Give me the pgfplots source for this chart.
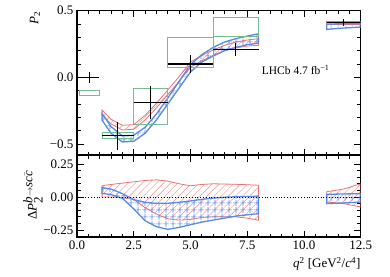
\documentclass[border=0pt]{standalone}
\usepackage{pgfplots}
\pgfplotsset{compat=1.18}
\usepackage{fontspec}
\setmainfont{Liberation Serif}
\usetikzlibrary{patterns.meta}
\definecolor{myred}{RGB}{238,112,112}
\definecolor{myblue}{RGB}{88,138,230}
\definecolor{mygreen}{RGB}{120,188,145}
\pgfplotsset{
  panel/.style={
    scale only axis, width=283.7pt, xmin=0, xmax=12.5,
    axis line style={line width=1.1pt},
    tick style={line width=0.8pt, black},
    tick align=inside, major tick length=6.5pt, minor tick length=3.5pt,
    xtick={0,2.5,5,7.5,10,12.5}, minor x tick num=4,
    minor y tick num=4,
    xtick pos=both, ytick pos=both,
    tick label style={font=\fontsize{13}{15}\selectfont},
    clip=true,
  },
  redband/.style={draw=myred, line width=0.8pt, pattern={Lines[angle=45,distance=5pt,line width=0.45pt]}, pattern color=myred!80},
  blueband/.style={draw=myblue, line width=1.3pt, pattern={Hatch[angle=0,distance=6.5pt,line width=0.6pt]}, pattern color=myblue},
  gbox/.style={draw=mygreen, line width=0.8pt},
}
\begin{document}
\begin{tikzpicture}
\useasboundingbox (0,0) rectangle (390pt,-276pt);
% ---------- top panel
\begin{axis}[panel, at={(77pt,-10.7pt)}, anchor=north west, height=144.3pt,
  ymin=-0.583, ymax=0.5, ytick={-0.5,0,0.5}, yticklabels={−0.5,0.0,0.5},
  xticklabels={}]
% red band (upper then lower reversed)
\addplot[redband] coordinates {
(1.1,-0.245)(1.5,-0.315)(2.0,-0.36)(2.5,-0.355)(3.0,-0.285)(3.5,-0.195)(4.0,-0.095)(4.5,0.005)(5.0,0.115)(5.5,0.165)(6.0,0.205)(6.5,0.24)(7.0,0.265)(7.5,0.28)(8.0,0.29)
(8.0,0.24)(7.5,0.235)(7.0,0.22)(6.5,0.20)(6.0,0.165)(5.5,0.125)(5.0,0.075)(4.5,-0.03)(4.0,-0.13)(3.5,-0.23)(3.0,-0.32)(2.5,-0.39)(2.0,-0.395)(1.5,-0.35)(1.1,-0.28)} -- cycle;
\addplot[redband] coordinates {(11.0,0.42)(11.75,0.42)(12.5,0.42)(12.5,0.40)(11.75,0.40)(11.0,0.40)} -- cycle;
% blue band
\addplot[blueband] coordinates {
(1.1,-0.27)(1.5,-0.37)(2.0,-0.44)(2.5,-0.435)(3.0,-0.375)(3.5,-0.275)(4.0,-0.155)(4.5,-0.03)(5.0,0.095)(5.5,0.17)(6.0,0.225)(6.5,0.265)(7.0,0.29)(7.5,0.31)(8.0,0.327)
(8.0,0.257)(7.5,0.245)(7.0,0.225)(6.5,0.20)(6.0,0.16)(5.5,0.115)(5.0,0.04)(4.5,-0.08)(4.0,-0.20)(3.5,-0.32)(3.0,-0.42)(2.5,-0.48)(2.0,-0.485)(1.5,-0.42)(1.1,-0.32)} -- cycle;
\addplot[blueband] coordinates {(11.0,0.40)(11.75,0.402)(12.5,0.405)(12.5,0.377)(11.75,0.37)(11.0,0.36)} -- cycle;
% green boxes
\addplot[gbox] coordinates {(0.1,-0.135)(0.98,-0.135)(0.98,-0.10)(0.1,-0.10)} -- cycle;
\addplot[gbox] coordinates {(1.1,-0.455)(2.5,-0.455)(2.5,-0.41)(1.1,-0.41)} -- cycle;
\addplot[gbox] coordinates {(2.5,-0.35)(4.0,-0.35)(4.0,-0.084)(2.5,-0.084)} -- cycle;
\addplot[gbox] coordinates {(4.0,0.077)(6.0,0.077)(6.0,0.30)(4.0,0.30)} -- cycle;
\addplot[gbox] coordinates {(6.0,0.307)(8.0,0.307)(8.0,0.45)(6.0,0.45)} -- cycle;
% data
\addplot[only marks, mark=*, mark size=0pt, black,
  error bars/.cd, x dir=both, x explicit, y dir=both, y explicit,
  error mark=none, error bar style={line width=1.1pt, black}]
  coordinates {
  (0.54,0.0) +- (0.44,0.04)
  (1.8,-0.44) +- (0.7,0.107)
  (3.25,-0.19) +- (0.75,0.123)
  (5.0,0.10) +- (1.0,0.07)
  (7.0,0.207) +- (1.0,0.05)
  (11.75,0.41) +- (0.75,0.028)};
\end{axis}
% ---------- bottom panel
\begin{axis}[panel, at={(77pt,-155pt)}, anchor=north west, height=82pt,
  ymin=-0.303, ymax=0.318, ytick={-0.25,0,0.25}, yticklabels={−0.25,0.00,0.25},
  xticklabels={0.0,2.5,5.0,7.5,10.0,12.5}]
\addplot[redband] coordinates {
(1.1,0.085)(1.5,0.095)(2.0,0.105)(2.5,0.115)(3.0,0.125)(3.5,0.13)(4.0,0.12)(4.5,0.10)(5.0,0.085)(5.5,0.095)(6.0,0.10)(6.5,0.098)(7.0,0.096)(7.5,0.093)(8.0,0.089)
(8.0,-0.176)(7.5,-0.16)(7.0,-0.15)(6.5,-0.15)(6.0,-0.15)(5.5,-0.155)(5.0,-0.17)(4.5,-0.175)(4.0,-0.165)(3.5,-0.13)(3.0,-0.08)(2.5,-0.02)(2.0,-0.005)(1.5,0.0)(1.1,0.0)} -- cycle;
\addplot[redband] coordinates {(11.0,0.04)(11.75,0.06)(12.5,0.10)(12.5,-0.076)(11.75,-0.05)(11.0,-0.038)} -- cycle;
\addplot[blueband] coordinates {
(1.1,0.072)(1.5,0.06)(2.0,0.025)(2.5,-0.02)(3.0,-0.04)(3.5,-0.048)(4.0,-0.048)(4.5,-0.04)(5.0,-0.03)(5.5,-0.018)(6.0,-0.008)(6.5,-0.002)(7.0,0.002)(7.5,0.004)(8.0,0.005)
(8.0,-0.126)(7.5,-0.135)(7.0,-0.145)(6.5,-0.16)(6.0,-0.175)(5.5,-0.19)(5.0,-0.21)(4.5,-0.23)(4.0,-0.245)(3.5,-0.225)(3.0,-0.18)(2.5,-0.09)(2.0,-0.01)(1.5,0.018)(1.1,0.028)} -- cycle;
\addplot[blueband] coordinates {(11.0,0.02)(11.75,0.023)(12.5,0.025)(12.5,-0.038)(11.75,-0.045)(11.0,-0.05)} -- cycle;
\addplot[black, dotted, line width=0.8pt] coordinates {(0,0)(12.5,0)};
\end{axis}
% ---------- labels
\node[rotate=90, anchor=east, inner sep=0pt, font=\fontsize{13}{15}\selectfont] at (35pt,-11pt) {\textit{P}\textsubscript{2}};
\node[rotate=90, inner sep=0pt, font=\fontsize{13}{15}\selectfont] at (33pt,-195pt) {Δ\textit{P}$_{\textrm{2}}^{\textit{b}\rightarrow\textit{sc}\bar{\textit{c}}}$};
\node[anchor=north east, inner sep=0pt, font=\fontsize{13}{15}\selectfont] at (360.7pt,-257pt) {\textit{q}\textsuperscript{2} [GeV\textsuperscript{2}/\textit{c}\textsuperscript{4}]};
\node[anchor=west, inner sep=0pt, font=\fontsize{11.5}{13}\selectfont] at (261.7pt,-70pt) {LHCb 4.7 fb\textsuperscript{−1}};
\end{tikzpicture}
\end{document}
